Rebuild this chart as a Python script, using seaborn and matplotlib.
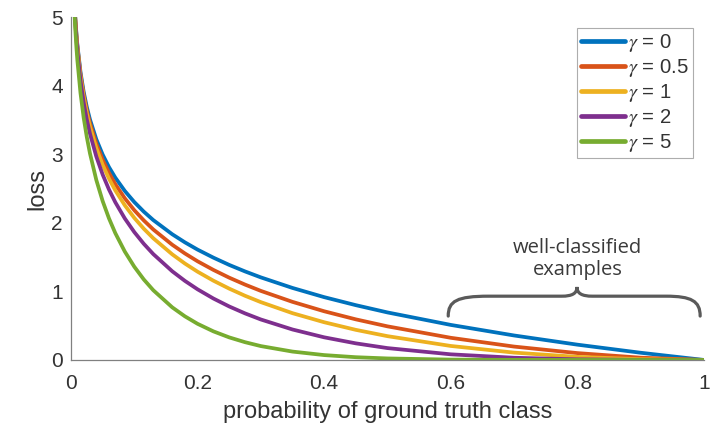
import numpy as np
import pandas as pd
import matplotlib
matplotlib.use("Agg")
import matplotlib.pyplot as plt
from matplotlib.path import Path
from matplotlib.patches import PathPatch
import seaborn as sns

# probability of ground truth class (x samples)
p = [0.005, 0.00674, 0.0085, 0.01, 0.015, 0.02, 0.025, 0.03, 0.04, 0.05, 0.06, 0.07,
     0.085, 0.1, 0.115, 0.13, 0.16, 0.18, 0.2, 0.225, 0.25, 0.275, 0.3, 0.35,
     0.4, 0.45, 0.5, 0.6, 0.7, 0.8, 0.9, 1.0]

loss_g0 = [5.298, 5.000, 4.768, 4.605, 4.200, 3.912, 3.689, 3.507, 3.219, 2.996, 2.813, 2.659,
           2.465, 2.303, 2.163, 2.040, 1.833, 1.715, 1.609, 1.492, 1.386, 1.291, 1.204, 1.050,
           0.916, 0.799, 0.693, 0.511, 0.357, 0.223, 0.105, 0.0]
loss_g05 = [5.285, 4.983, 4.747, 4.582, 4.168, 3.873, 3.642, 3.454, 3.154, 2.920, 2.728, 2.564,
            2.358, 2.184, 2.035, 1.903, 1.680, 1.553, 1.439, 1.313, 1.200, 1.099, 1.007, 0.847,
            0.710, 0.592, 0.490, 0.323, 0.195, 0.100, 0.033, 0.0]
loss_g1 = [5.272, 4.966, 4.727, 4.559, 4.137, 3.834, 3.597, 3.402, 3.090, 2.846, 2.645, 2.473,
           2.256, 2.072, 1.914, 1.775, 1.540, 1.406, 1.287, 1.156, 1.040, 0.936, 0.843, 0.682,
           0.550, 0.439, 0.347, 0.204, 0.107, 0.045, 0.011, 0.0]
loss_g2 = [5.245, 4.933, 4.687, 4.513, 4.075, 3.757, 3.507, 3.300, 2.967, 2.704, 2.486, 2.300,
           2.064, 1.865, 1.694, 1.544, 1.293, 1.153, 1.030, 0.896, 0.780, 0.679, 0.590, 0.444,
           0.330, 0.242, 0.173, 0.082, 0.032, 0.009, 0.001, 0.0]
loss_g5 = [5.167, 4.834, 4.568, 4.379, 3.894, 3.536, 3.250, 3.012, 2.625, 2.318, 2.065, 1.850,
           1.581, 1.360, 1.174, 1.017, 0.767, 0.636, 0.527, 0.417, 0.329, 0.259, 0.202, 0.122,
           0.071, 0.040, 0.022, 0.005, 0.001, 0.0, 0.0, 0.0]

series_labels = [r"$\gamma$ = 0", r"$\gamma$ = 0.5", r"$\gamma$ = 1", r"$\gamma$ = 2", r"$\gamma$ = 5"]
series_values = [loss_g0, loss_g05, loss_g1, loss_g2, loss_g5]
colors = ["#0072BD", "#D95319", "#EDB120", "#7E2F8E", "#77AC30"]

x_ticks = [0, 0.2, 0.4, 0.6, 0.8, 1]
x_tick_labels = ["0", "0.2", "0.4", "0.6", "0.8", "1"]
y_ticks = [0, 1, 2, 3, 4, 5]

rows = []
for lab, vals in zip(series_labels, series_values):
    for xv, yv in zip(p, vals):
        rows.append({"p": xv, "loss": yv, "gamma": lab})
df = pd.DataFrame(rows)

sns.set_theme(style="white")
plt.rcParams["font.family"] = ["Liberation Sans", "DejaVu Sans"]
plt.rcParams["mathtext.fontset"] = "stix"

fig = plt.figure(figsize=(7.12, 4.28), dpi=100)
ax = fig.add_axes([0.0997, 0.159, 0.889, 0.801])

sns.lineplot(data=df, x="p", y="loss", hue="gamma", hue_order=series_labels,
             palette=colors, linewidth=2.7, ax=ax, estimator=None, sort=False)

ax.set_xlim(0, 1)
ax.set_ylim(0, 5)
ax.set_xticks(x_ticks)
ax.set_xticklabels(x_tick_labels)
ax.set_yticks(y_ticks)
ax.tick_params(direction="in", length=4, width=0.8, colors="#333333",
               labelsize=15, labelcolor="#333333")
ax.tick_params(axis="x", pad=10)
ax.tick_params(axis="y", pad=6)
for s in ["top", "right"]:
    ax.spines[s].set_visible(False)
for s in ["left", "bottom"]:
    ax.spines[s].set_color("#808080")
    ax.spines[s].set_linewidth(0.9)
ax.set_xlabel("probability of ground truth class", fontsize=17, color="#333333", labelpad=6)
ax.set_ylabel("loss", fontsize=17, color="#333333", labelpad=2)

leg = ax.legend(loc="upper right", bbox_to_anchor=(0.983, 0.968), frameon=True,
                fontsize=14.6, handlelength=2.2, handletextpad=0.15, labelspacing=0.15,
                borderpad=0.2, borderaxespad=0.0, fancybox=False, title=None)
leg.get_frame().set_edgecolor("#999999")
leg.get_frame().set_linewidth(0.8)
for line in leg.get_lines():
    line.set_linewidth(3.4)
for t in leg.get_texts():
    t.set_color("#333333")

# brace annotation
verts = [(0.596, 0.64), (0.596, 0.86), (0.61, 0.93), (0.66, 0.93),
         (0.775, 0.93),
         (0.792, 0.93), (0.7994, 0.97), (0.7994, 1.065),
         (0.7994, 0.97), (0.807, 0.93), (0.824, 0.93),
         (0.94, 0.93),
         (0.98, 0.93), (0.994, 0.86), (0.994, 0.64)]
codes = [Path.MOVETO, Path.CURVE4, Path.CURVE4, Path.CURVE4,
         Path.LINETO,
         Path.CURVE4, Path.CURVE4, Path.CURVE4,
         Path.CURVE4, Path.CURVE4, Path.CURVE4,
         Path.LINETO,
         Path.CURVE4, Path.CURVE4, Path.CURVE4]
ax.add_patch(PathPatch(Path(verts, codes), facecolor="none", edgecolor="#5a5a5a",
                       linewidth=2.3, capstyle="round", clip_on=False))
ax.text(0.80, 1.47, "well-classified\nexamples", ha="center", va="center",
        fontsize=14.5, color="#3a3a3a", linespacing=1.15,
        family=["Open Sans", "DejaVu Sans"])

fig.savefig("out.png", dpi=100)
